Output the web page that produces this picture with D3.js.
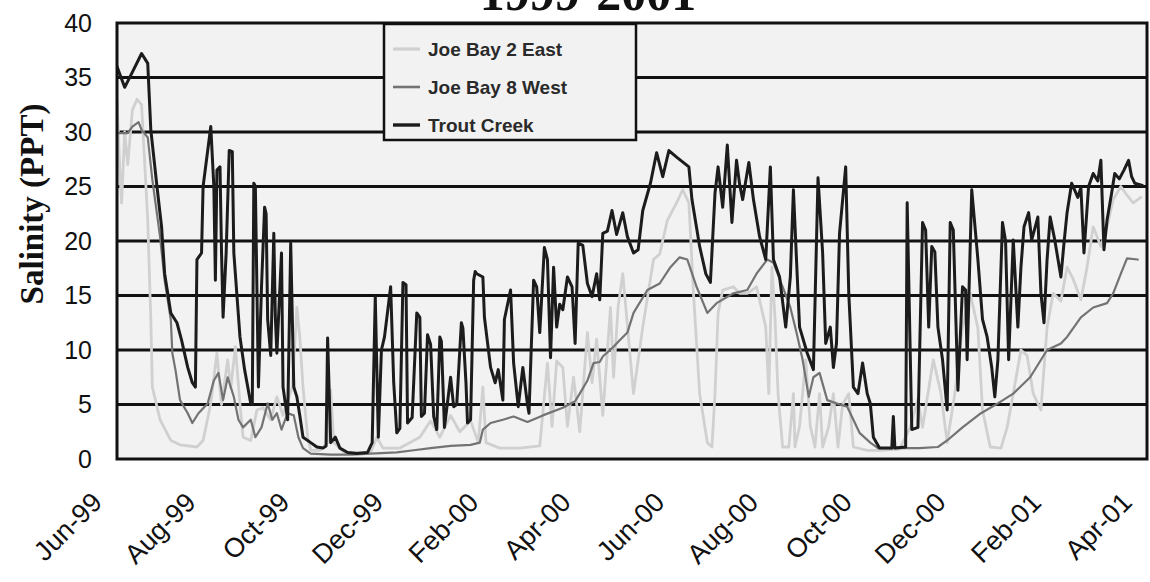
<!DOCTYPE html>
<html>
<head>
<meta charset="utf-8">
<script src="https://cdn.jsdelivr.net/npm/d3@7/dist/d3.min.js"></script>
<style>
  html, body { margin: 0; padding: 0; background: #ffffff; }
  svg { display: block; }
</style>
</head>
<body>
<svg id="chart" width="1150" height="582"></svg>
<script>
// ---------------- DATA ----------------
// Days since 1 June 1999 and salinity (PPT)
const seriesNames = ["Joe Bay 2 East", "Joe Bay 8 West", "Trout Creek"];
const titleText = "1999-2001";
const yTitle = "Salinity (PPT)";
const yTicks = [0, 5, 10, 15, 20, 25, 30, 35, 40];
const xTickLabels = ["Jun-99","Aug-99","Oct-99","Dec-99","Feb-00","Apr-00","Jun-00","Aug-00","Oct-00","Dec-00","Feb-01","Apr-01"];

const troutDays = [0,5,10,16,20,22,26,29,31,35,39,42,46,49,51,52,55,56,61,63,64,65,67,68,69,71,73,75,76,80,83,87,88,89,90,92,94,96,97,98,100,102,103,104,107,108,111,113,115,117,119,121,126,130,134,136,137,139,142,145,150,156,163,166,168,170,172,174,178,180,182,184,186,188,189,192,195,197,198,200,202,204,206,208,210,211,213,217,219,221,224,225,227,228,230,232,233,234,238,239,243,246,248,251,252,256,258,261,264,267,268,271,273,275,278,280,282,284,286,288,290,293,296,298,300,303,306,309,312,314,316,319,322,325,329,332,336,339,342,347,351,355,359,364,372,374,379,383,386,389,391,394,397,400,403,405,407,411,414,418,422,425,427,431,435,438,440,442,444,449,453,456,459,461,464,466,468,470,474,476,479,482,485,488,490,492,496,503,504,505,506,513,514,517,521,524,526,528,530,532,534,537,540,542,544,547,550,552,553,556,560,563,566,569,571,573,576,578,580,583,586,588,590,593,595,599,601,603,605,607,610,614,616,618,621,625,627,629,632,635,638,640,642,644,647,649,652,655,658,660,662,667];
const troutVals = [36,34.1,35.5,37.2,36.3,30.2,25,21.3,17,13.4,12.5,10.9,8.4,7,6.6,18.3,18.9,25,30.5,25,16.4,26.5,26.8,18.9,13,18.9,28.3,28.2,18.9,11.2,8.2,5.1,5,25.3,25,6.6,15.8,23.1,22.5,12.8,9.5,20.7,13,9.7,18.9,6.6,3.6,19.8,6.6,5.7,3.9,2,1.5,1.1,1,1.2,11.1,1.5,2,1,0.6,0.5,0.6,1.5,14.9,2,10,11.2,15.8,7,2.4,2.8,16.2,16,3.3,3.8,13.4,13,3.9,4.2,11.4,10.5,3.9,2.7,11.2,10.8,2.9,7.5,4.8,5,12.5,12,7,3.3,3.6,16.4,17.2,17,16.7,13,8.4,7,8.2,5.4,12.8,15.5,8.8,4.8,8.4,5,4.2,16.4,15.8,11.6,19.4,18.3,9.3,17.6,12.1,14.2,13.7,16.7,15.8,10.6,19.8,19.6,16.1,14.9,17,14.6,20.7,20.9,22.8,20.6,22.6,20.4,18.9,19.2,22.8,25.3,28.1,25.9,28.3,27.7,26.8,23.8,19.5,17,16.2,24.4,26.8,23.1,28.8,21.7,27.4,25.2,23.8,27.2,23.8,20.4,18.3,26.8,18.3,16.7,12.1,16.7,24.7,18.3,12.1,9.7,8.2,25.8,18.9,10.6,12.1,8.4,10.6,20.7,26.8,15.2,6.6,6,8.8,6,5.1,2,1,1,1,3.9,1,1.1,23.5,2.7,2.9,21.7,21,12.1,19.5,19,12.1,9.1,4.5,21.7,21,6.3,15.8,15.5,9.1,24.7,18.3,12.8,11.2,8.4,5.7,9.1,21.7,20,9.1,20.1,12.1,17.6,21.3,22.6,20.1,22.2,15.2,12.5,18.3,22.2,20.1,16.7,19.8,22.6,25.3,24,24.9,18.9,25,26.2,25.5,27.4,19.2,21.9,24.4,26.2,25.7,26.5,27.4,25.9,25.3,25.1];

const west8Days = [0,7,10,14,16,20,23,28,31,35,36,38,41,46,49,53,59,63,66,69,72,76,79,82,87,90,94,98,101,104,107,111,115,118,121,126,139,152,165,182,193,204,217,230,236,238,243,251,258,267,277,290,298,301,306,310,314,316,323,327,332,336,345,353,360,366,371,377,384,390,401,410,416,423,427,433,438,442,446,450,453,457,462,468,475,479,483,490,495,509,522,534,540,550,562,573,583,594,605,614,618,627,635,644,648,653,657,664];
const west8Vals = [29.9,29.9,30.5,30.9,30.2,29.5,25.6,20.4,16.4,12.8,9.7,8.2,5.4,4.2,3.3,4.2,5.1,7.2,7.9,5.4,7.5,5.7,3.6,2.9,3.6,2,2.9,5.1,3.6,4.2,2.7,4.2,4,2,1,0.5,0.4,0.4,0.5,0.6,0.8,1,1.2,1.3,1.5,2.7,3.3,3.6,3.9,3.4,4,4.7,5.3,6,7.2,8.8,8.9,9.4,10.3,10.9,11.6,13.4,15.5,16.1,17.6,18.5,18.3,15.8,13.4,14.3,15.2,15.5,17,18.3,18,15.8,13.9,11.6,9.1,5.7,7.5,7.9,5.4,5.1,4.8,3.6,2.4,1.5,1,1,1,1.1,1.7,2.9,4.2,5.1,6,7.5,10,10.6,11.2,13,13.9,14.3,15.2,17,18.4,18.3];

const east2Days = [0,2,3,5,7,10,13,16,20,22,23,28,35,41,52,56,61,65,68,72,74,77,80,82,87,91,95,100,104,108,114,117,119,121,124,126,132,137,139,141,148,165,169,173,184,197,204,210,217,223,230,235,238,240,249,262,275,280,283,286,290,293,297,301,306,309,312,316,321,323,326,329,334,336,342,349,353,358,364,368,372,375,379,384,387,389,391,394,401,405,410,416,422,424,426,428,430,433,437,440,441,444,448,451,454,457,459,463,466,469,472,476,479,488,496,509,516,521,524,531,536,540,545,550,555,560,563,568,575,579,583,588,592,596,601,605,609,614,618,622,627,631,635,640,644,648,653,657,661,666];
const east2Vals = [33,26,23.5,30,27,32,33,32.5,21.9,12.8,6.6,3.6,1.7,1.3,1.1,1.7,5.1,9.7,5,9.1,6.5,10.3,5,2,1.7,4.5,4.7,3.6,5.7,4,6.6,13.9,11,6.6,2,0.8,0.8,1.5,6.3,1.5,0.6,0.6,2,1,1,2,3.5,2,4,2.5,3.5,1.5,6.6,1.5,1,1,1.2,8.8,3,9,8.4,3,7.5,2.5,11.6,7,11,4,13.9,7.5,14,17,9.1,6,12.1,18.3,18.8,21.9,23.5,24.7,23.5,15.2,6,1.5,1.1,6,13.4,15.5,15.8,15.2,15.2,15.8,12.1,6,17.6,13,6,1.1,1.1,6,1.1,3,9.1,3,1.1,6,1.1,3,6,1.1,5,6,1.1,0.8,0.8,0.9,2.9,5.5,2.9,9.1,6,1.5,6,12.1,15.2,12,4.5,1.1,1,2.9,6,10,9.5,6,4.5,12.1,15.2,14.5,17.6,16.5,14.6,17.6,21.3,19.5,21.3,23.8,25,24.2,23.5,24];

// ---------------- LAYOUT ----------------
const W = 1150, H = 582;
const L = 117, R = 1147, T = 23, B = 459;
const plotBg = "#f2f2f2";
const colors = ["#d0d0d0", "#737373", "#1c1c1c"];
const widths = [2.8, 2.2, 3.0];

const start = new Date(1999, 5, 1);
const toDate = d => d3.timeDay.offset(start, d);
const parseTick = d3.timeParse("%b-%y");
const xTickDates = xTickLabels.map(parseTick);

const x = d3.scaleTime()
  .domain([xTickDates[0], xTickDates[xTickDates.length - 1]])
  .range([L, R]);
const y = d3.scaleLinear().domain([0, 40]).range([B, T]);

const svg = d3.select("#chart");
svg.append("rect").attr("width", W).attr("height", H).attr("fill", "#fff");

// plot background
svg.append("rect").attr("x", L).attr("y", T).attr("width", R - L).attr("height", B - T)
  .attr("fill", plotBg);

// gridlines
svg.append("g").selectAll("line").data(yTicks.filter(v => v > 0 && v < 40)).join("line")
  .attr("x1", L).attr("x2", R)
  .attr("y1", d => y(d)).attr("y2", d => y(d))
  .attr("stroke", "#111").attr("stroke-width", 3);

// series
const series = [
  {name: seriesNames[0], days: east2Days, vals: east2Vals},
  {name: seriesNames[1], days: west8Days, vals: west8Vals},
  {name: seriesNames[2], days: troutDays, vals: troutVals}
];
const line = d3.line().x(d => x(d[0])).y(d => y(d[1]));
const clip = svg.append("clipPath").attr("id", "clip");
clip.append("rect").attr("x", L).attr("y", T).attr("width", R - L).attr("height", B - T);
const gS = svg.append("g").attr("clip-path", "url(#clip)");
series.forEach((s, i) => {
  const pts = s.days.map((d, k) => [toDate(d), s.vals[k]]);
  gS.append("path").datum(pts)
    .attr("d", line)
    .attr("fill", "none")
    .attr("stroke", colors[i])
    .attr("stroke-width", widths[i])
    .attr("stroke-linejoin", "round")
    .attr("stroke-linecap", "round");
});

// plot border
svg.append("rect").attr("x", L).attr("y", T).attr("width", R - L).attr("height", B - T)
  .attr("fill", "none").attr("stroke", "#111").attr("stroke-width", 3);

// y axis
const yAxis = d3.axisLeft(y).tickValues(yTicks).tickSize(0).tickPadding(25);
const gy = svg.append("g").attr("transform", `translate(${L},0)`).call(yAxis);
gy.select(".domain").remove();
gy.selectAll("text")
  .attr("font-family", "'Liberation Sans', Arial, sans-serif")
  .attr("font-size", 25).attr("fill", "#111");

// x axis
const xAxis = d3.axisBottom(x).tickValues(xTickDates)
  .tickFormat((d, i) => xTickLabels[i]).tickSize(0);
const gx = svg.append("g").attr("transform", `translate(0,${B})`).call(xAxis);
gx.select(".domain").remove();
gx.selectAll("text")
  .attr("font-family", "'Liberation Sans', Arial, sans-serif")
  .attr("font-size", 27).attr("fill", "#111")
  .attr("text-anchor", "end")
  .attr("dy", null)
  .attr("y", null)
  .attr("transform", "translate(-14,45) rotate(-45)");

// y title
svg.append("text")
  .attr("transform", "translate(43,204) rotate(-90)")
  .attr("text-anchor", "middle")
  .attr("font-family", "'Liberation Serif', 'Times New Roman', serif")
  .attr("font-weight", "bold")
  .attr("font-size", 33)
  .attr("fill", "#111")
  .text(yTitle);

// title (cut off at top as in the original)
svg.append("text")
  .attr("x", 588).attr("y", 10)
  .attr("text-anchor", "middle")
  .attr("font-family", "'Liberation Serif', 'Times New Roman', serif")
  .attr("font-weight", "bold")
  .attr("font-size", 50)
  .attr("fill", "#111")
  .text(titleText);

// legend
const lg = svg.append("g");
lg.append("rect").attr("x", 384).attr("y", 24).attr("width", 252).attr("height", 116)
  .attr("fill", plotBg).attr("stroke", "#111").attr("stroke-width", 2.5);
const rowsY = [49, 87, 125];
seriesNames.forEach((n, i) => {
  lg.append("line").attr("x1", 393).attr("x2", 420).attr("y1", rowsY[i]).attr("y2", rowsY[i])
    .attr("stroke", colors[i]).attr("stroke-width", widths[i] + 0.4);
  lg.append("text").attr("x", 428).attr("y", rowsY[i] + 7)
    .attr("font-family", "'Liberation Sans', Arial, sans-serif")
    .attr("font-weight", "bold")
    .attr("font-size", 19).attr("fill", "#2a2a2a")
    .text(n);
});
</script>
</body>
</html>
